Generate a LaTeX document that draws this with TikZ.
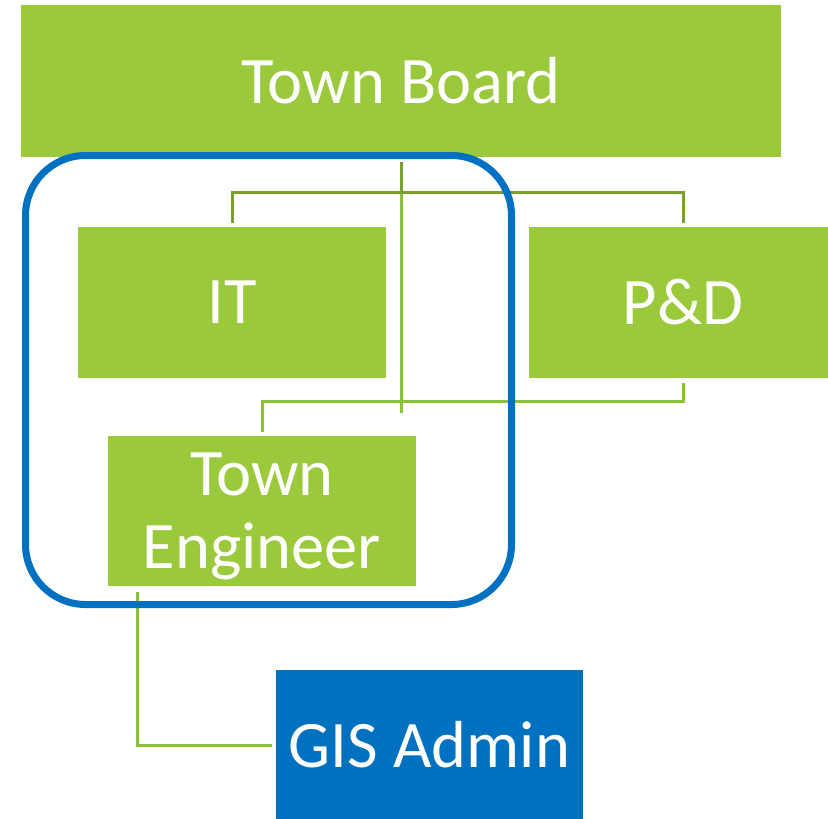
\documentclass[tikz,border=0pt]{standalone}
\usepackage{fontspec}
\setmainfont{Carlito}
\definecolor{boxgreen}{HTML}{9ACA3C}
\definecolor{darkline}{HTML}{77A02E}
\definecolor{liteline}{HTML}{8CC23A}
\definecolor{gisblue}{HTML}{0070C0}
\begin{document}
\begin{tikzpicture}[x=1pt,y=-1pt,
  box/.style={fill=boxgreen, draw=none, text=white, font=\fontsize{66.5}{73}\selectfont, inner sep=0pt, align=center, minimum width=308pt, minimum height=151pt},
  dk/.style={draw=darkline, line width=3pt},
  lt/.style={draw=liteline, line width=3pt},
  frame/.style={draw=gisblue, line width=7pt, rounded corners=60pt}]
\useasboundingbox (0,0) rectangle (828,819);
\clip (0,0) rectangle (828,819);
\node[box, minimum width=760pt, minimum height=152pt] (tb) at (401,81) {Town Board};
\node[box] (it) at (232,302.5) {IT};
\node[box] (pd) at (683,302.5) {P\&D};
\node[box, minimum height=150pt, text depth=0pt] (te) at (262,511) {Town\\Engineer};
% connectors
\coordinate (tbs) at ([yshift=-5pt]tb.south);
\coordinate (tbl) at ([yshift=-256pt]tb.south);
\draw[lt] (tbs) -- (tbl);
\draw[dk] (tbs) -- ++(0,30) coordinate (j1) -| ([yshift=4pt]it.north);
\draw[dk] (j1) -| ([yshift=4pt]pd.north);
\draw[lt] ([yshift=-5pt]pd.south) -- ++(0,18) coordinate (j2) -| ([yshift=4pt]te.north);
\coordinate (teb) at ([yshift=-6pt]te.south west);
\node[fill=gisblue, draw=none, text=white, font=\fontsize{66.5}{73}\selectfont, inner sep=0pt, minimum width=307pt, minimum height=150pt] (gis) at (429.5,745) {GIS Admin};
\draw[lt] ([xshift=30pt]teb) |- ([xshift=-4pt]gis.west);
\draw[frame] (25.5,155.5) rectangle (511.5,604.5);
\end{tikzpicture}
\end{document}
